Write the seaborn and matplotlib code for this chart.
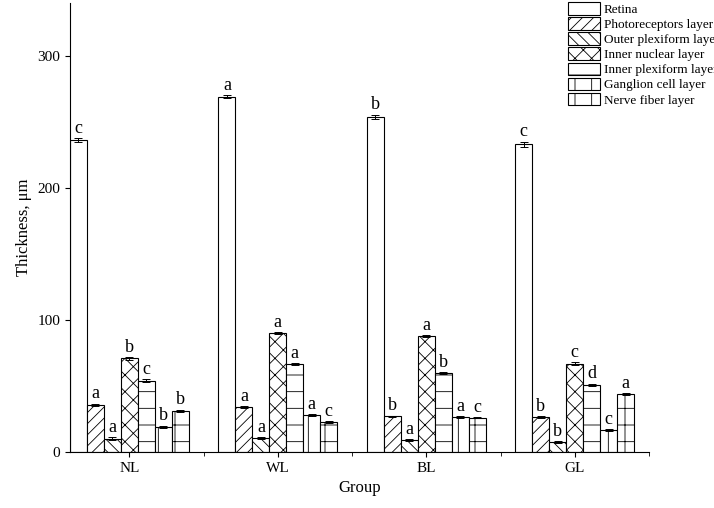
import numpy as np
import pandas as pd
import matplotlib
matplotlib.use("Agg")
import matplotlib.pyplot as plt
from matplotlib.patches import Patch
import seaborn as sns

plt.rcParams["font.family"] = "Liberation Serif"
plt.rcParams["hatch.linewidth"] = 0.6

groups = ["NL", "WL", "BL", "GL"]
layers = ["Retina", "Photoreceptors layer", "Outer plexiform layer", "Inner nuclear layer",
          "Inner plexiform layer", "Ganglion cell layer", "Nerve fiber layer"]
# values per layer, order NL, WL, BL, GL
retina = [236, 269, 254, 233]
photo = [35.6, 34, 27, 26.5]
opl = [10, 10.5, 9, 7.5]
inl = [71, 90, 88, 67]
ipl = [54, 66.5, 60, 51]
gcl = [19, 28, 26.5, 16.7]
nfl = [31, 22.7, 26, 44]
err_retina = [1.5, 1.0, 1.5, 2.0]
err_small = [1.0, 0.8, 0.6, 0.8]
letters = {
    "Retina": ["c", "a", "b", "c"],
    "Photoreceptors layer": ["a", "a", "b", "b"],
    "Outer plexiform layer": ["a", "a", "a", "b"],
    "Inner nuclear layer": ["b", "a", "a", "c"],
    "Inner plexiform layer": ["c", "a", "b", "d"],
    "Ganglion cell layer": ["b", "a", "a", "c"],
    "Nerve fiber layer": ["b", "c", "c", "a"],
}
hatches = ["", "///", "\\\\\\", "xx", "-", "|", "+"]

vals = [retina, photo, opl, inl, ipl, gcl, nfl]
rows = []
for name, v in zip(layers, vals):
    for g, x in zip(groups, v):
        rows.append({"Group": g, "Layer": name, "Thickness": x})
df = pd.DataFrame(rows)

fig = plt.figure(figsize=(7.14, 5.08), dpi=100)
ax = fig.add_axes([70 / 714, 56 / 508, 579 / 714, 449 / 508])
sns.barplot(data=df, x="Group", y="Thickness", hue="Layer", order=groups, hue_order=layers,
            color="white", edgecolor="black", linewidth=0.8, errorbar=None, ax=ax, width=0.8,
            legend=False)

for i, (cont, h) in enumerate(zip(ax.containers, hatches)):
    errs = err_retina if i == 0 else err_small
    for j, bar in enumerate(cont):
        bar.set_facecolor("white")
        bar.set_hatch(h)
        cx = bar.get_x() + bar.get_width() / 2
        top = bar.get_height()
        ax.errorbar(cx, top, yerr=errs[j], color="black", capsize=3, lw=0.7, capthick=0.7)
        ax.text(cx, top + errs[j] + 1, letters[layers[i]][j], ha="center", va="bottom", fontsize=13)

ax.set_xlim(-0.4, 3.5)
ax.set_ylim(0, 340)
ax.set_yticks([0, 100, 200, 300])
ax.set_xticks([0.5, 1.5, 2.5, 3.5], minor=True)
ax.tick_params(axis="both", labelsize=11, direction="out")
ax.tick_params(which="minor", length=3)
ax.set_xlabel("Group", fontsize=12)
ax.set_ylabel("Thickness, \u03bcm", fontsize=12)
sns.despine(ax=ax)

handles = [Patch(facecolor="white", edgecolor="black", hatch=h, linewidth=0.8) for h in hatches]
fig.legend(handles, layers, loc="upper left", bbox_to_anchor=(566 / 714, 1.0),
           frameon=False, fontsize=9.5, handlelength=2.4, handleheight=1.1,
           labelspacing=0.1, borderpad=0.05, borderaxespad=0.1, handletextpad=0.3)

fig.savefig("out.png", dpi=100)
